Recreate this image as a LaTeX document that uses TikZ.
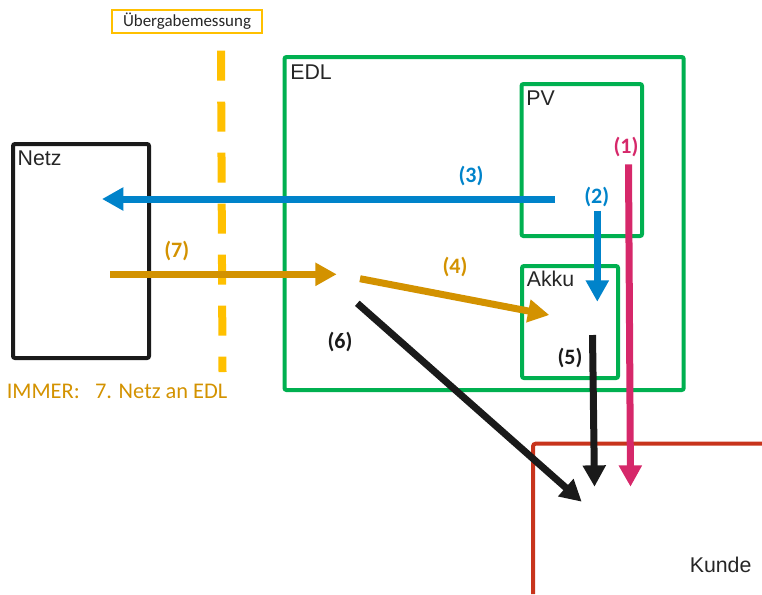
\documentclass[tikz,border=0pt]{standalone}
\usepackage{fontspec}
\setmainfont{Carlito}
\newfontfamily\boxfont{Liberation Sans}
\usetikzlibrary{arrows.meta}

\definecolor{edlgreen}{HTML}{00B050}
\definecolor{flowblue}{HTML}{0083CA}
\definecolor{flowgold}{HTML}{D39200}
\definecolor{meteryellow}{HTML}{FFC000}
\definecolor{flowmagenta}{HTML}{D6286A}
\definecolor{kundered}{HTML}{C8341C}
\definecolor{flowblack}{HTML}{1A1A1A}
\definecolor{textgray}{HTML}{262626}

\tikzset{
  frame/.style={line width=3pt, rounded corners=1.5pt},
  boxlabel/.style={font=\boxfont\fontsize{16}{18}\selectfont, text=textgray, inner sep=0pt, anchor=base west},
  flowlabel/.style={font=\bfseries\fontsize{16.5}{18}\selectfont, inner sep=0pt},
  flow/.style={line width=5.25pt, -{Triangle[length=16pt, width=16.5pt]}},
}

\begin{document}
\begin{tikzpicture}[x=0.75pt, y=-0.75pt]
\useasboundingbox (0,0) rectangle (762,594);

% metering point: label and dashed boundary line
\node[draw=meteryellow, line width=2pt, inner sep=0pt, minimum width=112.5pt, minimum height=17.25pt,
      font=\fontsize{12.7}{14}\selectfont, text=textgray] (meter) at (187,21.5) {Übergabemessung};
\coordinate (cutTop) at (221,50.7);
\coordinate (cutBot) at (222.5,372);
\draw[meteryellow, line width=6pt, dash pattern=on 22.5pt off 15.75pt] (cutTop) -- (cutBot);

% grid
\draw[frame, flowblack] (13,144) rectangle (149,358);
\node[boxlabel] (netz) at (17.4,165) {Netz};

% service provider with PV and battery
\draw[frame, edlgreen] (284.5,57) rectangle (683.7,390);
\node[boxlabel] (edl) at (290,79.3) {EDL};
\draw[frame, edlgreen] (521.5,84) rectangle (642,236);
\node[boxlabel] (pv) at (526,105.7) {PV};
\draw[frame, edlgreen] (522,266) rectangle (618,378);
\node[boxlabel] (akku) at (526.5,286.7) {Akku};

% customer
\draw[kundered, line width=3pt, rounded corners=2pt] (533,594) -- (533,443.7) -- (762,443.7);
\node[boxlabel] (kunde) at (689.5,572) {Kunde};

% flow end points
\coordinate (f1s) at (628.5,164.3);  \coordinate (f1e) at (630.5,486.7);
\coordinate (f2s) at (597.3,210.7);  \coordinate (f2e) at (597.3,301.7);
\coordinate (f3s) at (555,199);      \coordinate (f3e) at (102,199);
\coordinate (f4s) at (360,278.7);    \coordinate (f4e) at (549.3,315);
\coordinate (f5s) at (592.5,335);    \coordinate (f5e) at (594.5,486.7);
\coordinate (f6s) at (357.3,303.3);  \coordinate (f6e) at (581.7,501.7);
\coordinate (f7s) at (110,274.3);    \coordinate (f7e) at (336.7,274.3);

% energy flows
\draw[flow, flowblue] (f3s) -- (f3e);
\draw[flow, flowblue] (f2s) -- (f2e);
\draw[flow, flowmagenta] (f1s) -- (f1e);
\draw[flow, flowgold] (f7s) -- (f7e);
\draw[flow, flowgold] (f4s) -- (f4e);
\draw[flow, flowblack] (f6s) -- (f6e);
\draw[flow, flowblack] (f5s) -- (f5e);

% flow numbers
\node[flowlabel, text=flowmagenta] (l1) at (626,146.7) {(1)};
\node[flowlabel, text=flowblue] (l2) at (596.7,196.7) {(2)};
\node[flowlabel, text=flowblue] (l3) at (471,176) {(3)};
\node[flowlabel, text=flowgold] (l4) at (455,267.3) {(4)};
\node[flowlabel, text=flowblack] (l5) at (570,358) {(5)};
\node[flowlabel, text=flowblack] (l6) at (340,341.7) {(6)};
\node[flowlabel, text=flowgold] (l7) at (176.7,251) {(7)};

% note
\node[font=\fontsize{16.8}{19}\selectfont, text=flowgold, inner sep=0pt, anchor=base west] (note)
  at (6.5,398.3) {IMMER:\ \ \ 7. Netz an EDL};
\end{tikzpicture}
\end{document}
